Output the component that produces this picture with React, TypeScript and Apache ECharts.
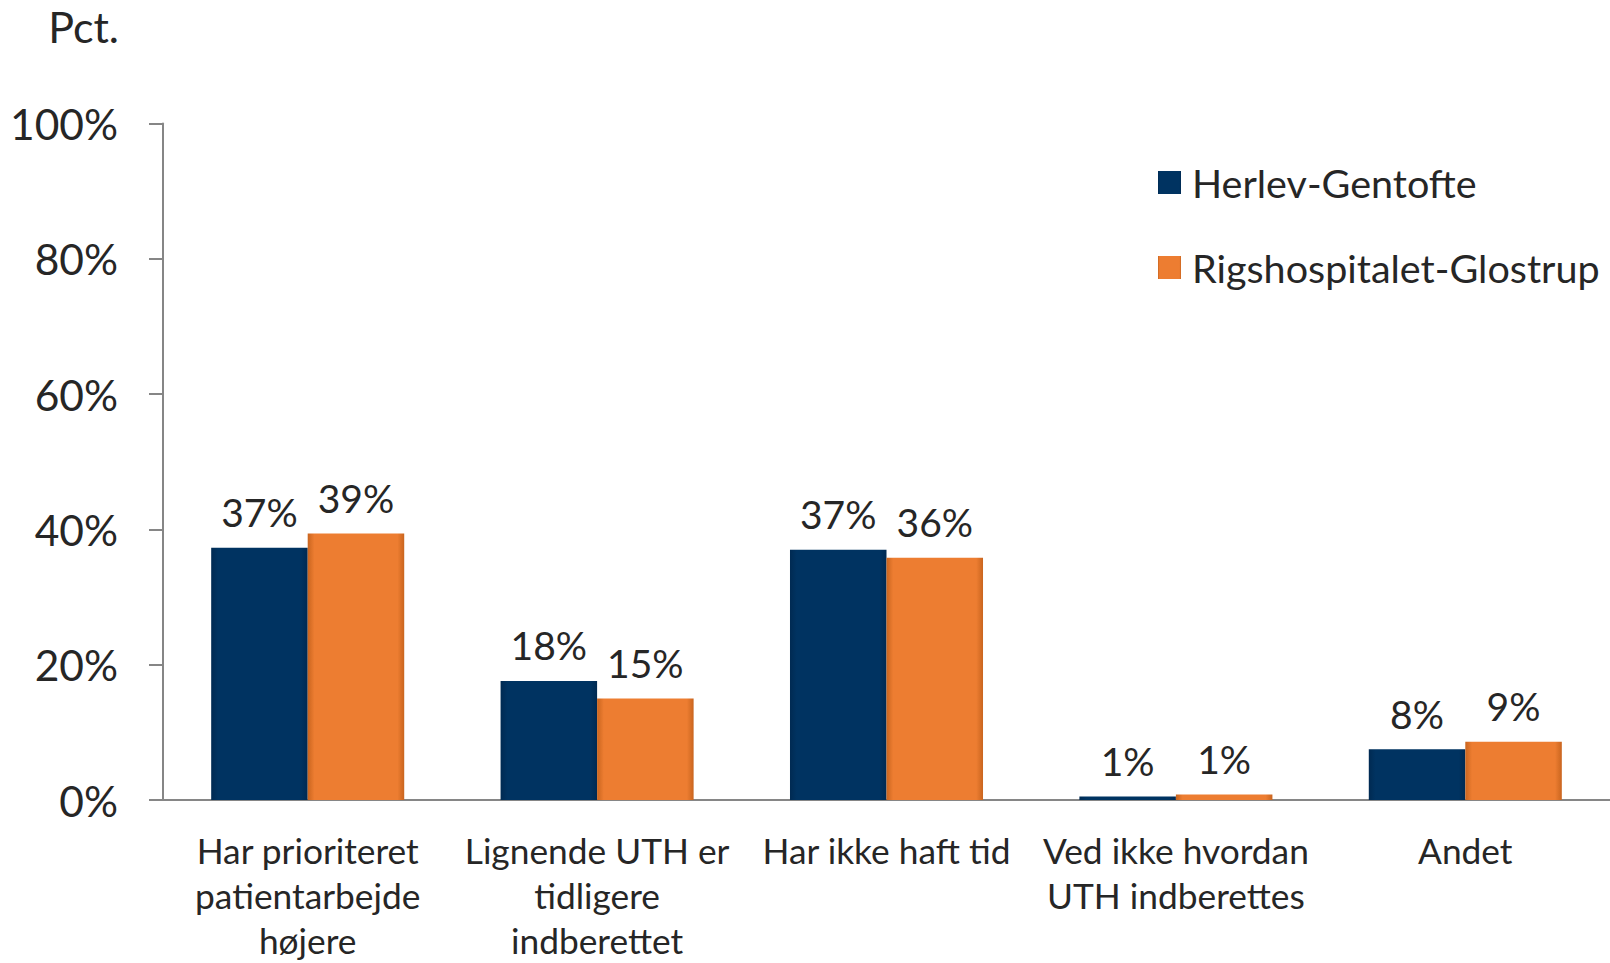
import React, { useEffect, useRef } from "react";
import * as echarts from "echarts";

const categories = [
  "Har prioriteret\npatientarbejde\nhøjere",
  "Lignende UTH er\ntidligere\nindberettet",
  "Har ikke haft tid",
  "Ved ikke hvordan\nUTH indberettes",
  "Andet",
];
const seriesNames = ["Herlev-Gentofte", "Rigshospitalet-Glostrup"];
const herlevGentofte = [37.3, 17.6, 37.0, 0.5, 7.5];
const rigshospitaletGlostrup = [39.4, 15.0, 35.8, 0.8, 8.6];
const yTicks = [0, 20, 40, 60, 80, 100];

const FONT = "Lato";
const TEXT = "#262626";

function barGradient(edge: string, mid: string) {
  return new echarts.graphic.LinearGradient(0, 0, 1, 0, [
    { offset: 0, color: edge },
    { offset: 0.07, color: mid },
    { offset: 0.93, color: mid },
    { offset: 1, color: edge },
  ]);
}

export default function App() {
  const ref = useRef<HTMLDivElement>(null);
  useEffect(() => {
    if (!ref.current) return;
    const chart = echarts.init(ref.current, null, { renderer: "svg" });
    const navy = barGradient("#002a52", "#003361");
    const orange = barGradient("#c9651f", "#ed7d31");
    const label = {
      show: true,
      position: "top",
      distance: 16,
      fontFamily: FONT,
      fontSize: 39,
      color: TEXT,
      formatter: (p: any) => `${Math.round(p.value)}%`,
    };
    chart.setOption({
      animation: false,
      textStyle: { fontFamily: FONT },
      grid: { left: 163, right: 0, top: 123.5, bottom: 157.5 },
      legend: {
        orient: "vertical",
        left: 1153,
        top: 155,
        itemWidth: 23,
        itemHeight: 23,
        itemGap: 40,
        icon: "rect",
        textStyle: {
          fontFamily: FONT,
          fontSize: 39.5,
          color: TEXT,
          lineHeight: 45,
          padding: [0, 0, 0, 6],
        },
        data: seriesNames,
      },
      graphic: [
        {
          type: "text",
          right: 1610 - 119,
          top: 5,
          style: {
            text: "Pct.",
            fontFamily: FONT,
            fontSize: 43,
            fill: TEXT,
          },
        },
      ],
      xAxis: {
        type: "category",
        data: categories,
        axisLine: { lineStyle: { color: "#868686", width: 2 } },
        axisTick: { show: false },
        axisLabel: {
          interval: 0,
          margin: 28,
          fontFamily: FONT,
          fontSize: 35.3,
          lineHeight: 45,
          color: TEXT,
        },
      },
      yAxis: {
        type: "value",
        min: 0,
        max: 100,
        interval: 20,
        axisLine: { show: true, lineStyle: { color: "#868686", width: 2 } },
        axisTick: { show: true, inside: false, length: 14, lineStyle: { color: "#868686", width: 2 } },
        splitLine: { show: false },
        axisLabel: {
          margin: 45,
          fontFamily: FONT,
          fontSize: 42.5,
          color: TEXT,
          formatter: (v: number) => (yTicks.includes(v) ? `${v}%` : ""),
        },
      },
      series: [
        {
          name: seriesNames[0],
          type: "bar",
          data: herlevGentofte,
          barGap: "0%",
          barCategoryGap: "33.3%",
          itemStyle: { color: navy },
          label,
        },
        {
          name: seriesNames[1],
          type: "bar",
          data: rigshospitaletGlostrup,
          barGap: "0%",
          barCategoryGap: "33.3%",
          itemStyle: { color: orange },
          label,
        },
      ],
    });
    return () => chart.dispose();
  }, []);
  return <div ref={ref} style={{ width: 1610, height: 963, position: "absolute", left: 0, top: 0 }} />;
}
